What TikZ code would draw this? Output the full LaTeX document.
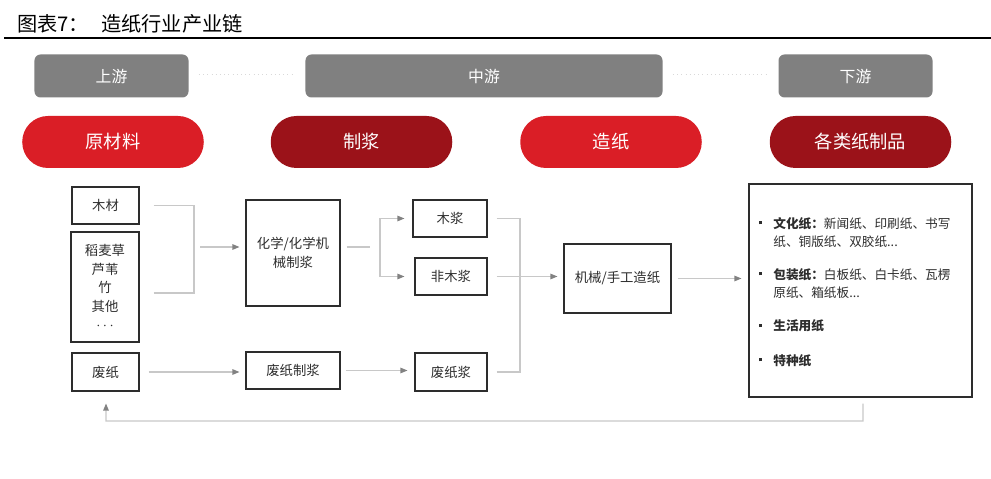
\documentclass[tikz,border=0pt]{standalone}
\usepackage{fontspec}
\setmainfont{Noto Sans CJK SC}
\usetikzlibrary{arrows.meta, calc}

\definecolor{bandgrey}{RGB}{128,128,128}
\definecolor{brightred}{RGB}{218,30,38}
\definecolor{deepred}{RGB}{155,18,25}
\definecolor{linkgrey}{RGB}{200,200,200}
\definecolor{tipgrey}{RGB}{130,130,130}
\definecolor{inkgrey}{RGB}{45,45,45}

\newcommand{\squaredot}{\raisebox{0.75mm}{\rule{0.6mm}{0.6mm}}}

\begin{document}
\begin{tikzpicture}[x=0.2mm, y=-0.2mm,
  header/.style={fill=bandgrey, rounded corners=1.2mm, text=white, minimum width=30.8mm, minimum height=8.6mm, font=\fontsize{9}{10}\selectfont},
  pill/.style={rounded corners=5.15mm, text=white, minimum width=36.3mm, minimum height=10.4mm, font=\fontsize{10.4}{12}\selectfont},
  box/.style={draw=inkgrey, line width=0.6pt, text=inkgrey, align=center, minimum height=7.4mm, font=\fontsize{7.6}{10.5}\selectfont},
  link/.style={draw=linkgrey, line width=0.6pt},
  flow/.style={link, -{Triangle[length=1.4mm, width=1.1mm, color=tipgrey]}}]
  \useasboundingbox (0,0) rectangle (991,479);

  % Title
  \node[anchor=west, inner sep=0pt, font=\fontsize{11.5}{13}\selectfont] (title) at (17,24) {图表7：\hspace{2.4mm}造纸行业产业链};
  \draw[line width=1.6pt] (4,38) -- (991,38);

  % Stages
  \node[header] (upstream) at (111.5,76) {上游};
  \node[header, minimum width=71.4mm] (midstream) at (484,76) {中游};
  \node[header] (downstream) at (855.5,76) {下游};
  \draw[link, draw=linkgrey!70, line width=0.4pt, dotted] ($(upstream.east)+(10,-2)$) -- ($(midstream.west)+(-13,-2)$);
  \draw[link, draw=linkgrey!70, line width=0.4pt, dotted] ($(midstream.east)+(10,-2)$) -- ($(downstream.west)+(-12,-2)$);

  \node[pill, fill=brightred] (rawpill) at (113,142) {原材料};
  \node[pill, fill=deepred] (pulppill) at (361.5,142) {制浆};
  \node[pill, fill=brightred] (paperpill) at (611,142) {造纸};
  \node[pill, fill=deepred] (goodspill) at (860.5,142) {各类纸制品};

  % Raw materials
  \node[box, minimum width=13.4mm] (wood) at (105.5,205.5) {木材};
  \node[box, minimum width=13.6mm, minimum height=22mm] (straw) at (105,287) {稻麦草\\芦苇\\竹\\其他\\$\cdots$};
  \node[box, minimum width=13.4mm, minimum height=7.6mm] (waste) at (105.5,372) {废纸};

  % Pulping
  \node[box, minimum width=18.8mm, minimum height=21.2mm] (chempulp) at (293,253) {化学/化学机\\械制浆};
  \node[box, minimum width=18.8mm] (wastepulp) at (293,370.5) {废纸制浆};
  \node[box, minimum width=14.8mm] (woodpulp) at (450,218.5) {木浆};
  \node[box, minimum width=14.4mm] (nonwood) at (451,276.5) {非木浆};
  \node[box, minimum width=14.4mm, minimum height=7.6mm] (wastestock) at (451,372) {废纸浆};

  % Papermaking and products
  \node[box, minimum width=21.4mm, minimum height=13.8mm] (machine) at (617.5,278.5) {机械/手工造纸};
  \node[box, minimum width=44.6mm, minimum height=42.6mm] (products) at (860.5,290.5) {};
  \node[anchor=north west, inner sep=0pt, text=inkgrey, font=\fontsize{7.2}{10.3}\selectfont] (productlist) at (759,215) {%
    \begin{tabular}{@{}l@{\hspace{2.2mm}}l@{}}
      \squaredot & \textbf{文化纸：}新闻纸、印刷纸、书写\\
                 & 纸、铜版纸、双胶纸...\\[3mm]
      \squaredot & \textbf{包装纸：}白板纸、白卡纸、瓦楞\\
                 & 原纸、箱纸板...\\[3.1mm]
      \squaredot & \textbf{生活用纸}\\[3.2mm]
      \squaredot & \textbf{特种纸}
    \end{tabular}};

  % Connectors
  \coordinate (rawjoin) at (194,247);
  \coordinate (pulpjoin) at (380,247);
  \coordinate (stockjoin) at (520,276.5);
  \coordinate (loop) at (863,421);

  \draw[link] ($(wood.east)+(14,0)$) -| (rawjoin);
  \draw[link] ($(straw.east)+(14,6)$) -| (rawjoin);
  \draw[flow] ($(rawjoin)+(6,0)$) -- ($(chempulp.west |- rawjoin)+(-6,0)$);

  \draw[link] ($(chempulp.east |- pulpjoin)+(6,0)$) -- ($(pulpjoin)+(-10,0)$);
  \draw[flow] (pulpjoin) |- ($(woodpulp.west)+(-8,0)$);
  \draw[flow] (pulpjoin) |- ($(nonwood.west)+(-10,0)$);

  \draw[link] ($(woodpulp.east)+(9,0)$) -| (stockjoin);
  \draw[link] ($(wastestock.east)+(9,0)$) -| (stockjoin);
  \draw[flow] ($(nonwood.east)+(9,0)$) -- ($(machine.west |- nonwood.east)+(-6,0)$);
  \draw[flow] ($(machine.east)+(6,0)$) -- ($(products.west |- machine.east)+(-7,0)$);

  \draw[flow] ($(waste.east)+(9,0)$) -- ($(wastepulp.west |- waste.east)+(-6,0)$);
  \draw[flow] ($(wastepulp.east)+(5,0)$) -- ($(wastestock.west |- wastepulp.east)+(-7,0)$);

  % Recycling
  \draw[flow] ($(products.south)+(2.5,6)$) -- (loop) -| ($(waste.south)+(0.5,12)$);
\end{tikzpicture}
\end{document}
